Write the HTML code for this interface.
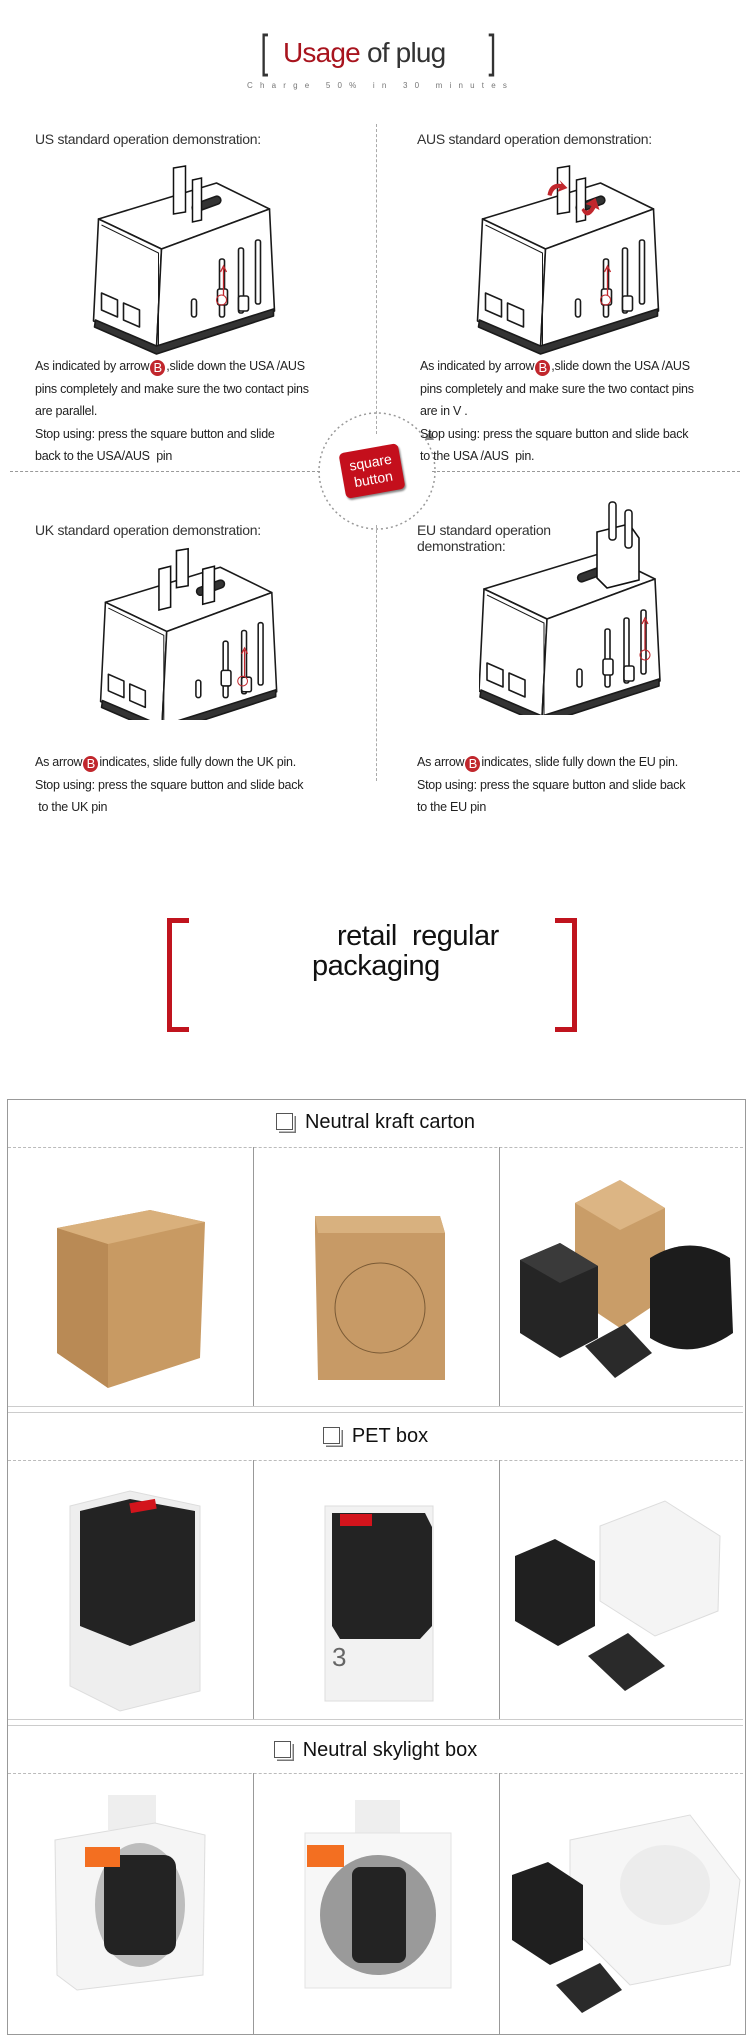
<!DOCTYPE html>
<html><head><meta charset="utf-8"><style>
*{margin:0;padding:0;box-sizing:border-box}
body{width:750px;height:2040px;background:#fff;position:relative;overflow:hidden;font-family:"Liberation Sans",Arial,sans-serif;color:#222}
.a{position:absolute}
.h{font-size:14px;letter-spacing:-0.3px;color:#333;white-space:nowrap}
.p{font-size:12.5px;letter-spacing:-0.25px;color:#222;line-height:22.5px;white-space:nowrap}
.b{display:inline-block;width:15px;height:16px;border-radius:50%;background:#c1272d;color:#fff;text-align:center;font-size:13px;line-height:16px;vertical-align:-2px;margin:0 1px}
.rb{position:absolute;border:5px solid #c0141e;width:22px;height:114px}
.cell{position:absolute;border-left:1px solid #999}
.hdr{position:absolute;left:7px;width:737px;text-align:center;font-size:20px;color:#111}
.cb{display:inline-block;width:17px;height:17px;border:1.5px solid #555;box-shadow:2px 2px 0 -0.5px #fff,3px 3px 0 0 #777;margin-right:12px;vertical-align:-2px}
.dash{position:absolute;left:8px;width:735px;border-top:1px dashed #bbb}
.sol{position:absolute;left:8px;width:735px;border-top:1px solid #ccc}
</style></head><body>

<!-- Title -->
<div class="a" style="left:258px;top:28px;font-size:46px;color:#333;font-weight:100;line-height:46px;transform:scaleX(0.6)">[</div>
<div class="a" style="left:486px;top:28px;font-size:46px;color:#333;line-height:46px;transform:scaleX(0.6)">]</div>
<div class="a" style="left:283px;top:36px;font-size:28px;line-height:34px;letter-spacing:-0.8px;white-space:nowrap"><span style="color:#a8141e">Usage</span> <span style="color:#333">of plug</span></div>
<div class="a" style="left:247px;top:81px;font-size:8px;letter-spacing:7.2px;color:#777;white-space:nowrap">Charge 50% in 30 minutes</div>

<!-- dividers -->
<div class="a" style="left:376px;top:124px;height:310px;border-left:1px dashed #aaa"></div>
<div class="a" style="left:376px;top:525px;height:256px;border-left:1px dashed #aaa"></div>
<div class="a" style="left:10px;top:471px;width:310px;border-top:1px dashed #999"></div>
<div class="a" style="left:432px;top:471px;width:308px;border-top:1px dashed #999"></div>
<svg class="a" style="left:310px;top:405px" width="135" height="135" viewBox="0 0 135 135">
<circle cx="67" cy="66" r="58" fill="none" stroke="#999" stroke-width="1.5" stroke-dasharray="2 3"/>
<path d="M115 35 l5 -10 l4 10z" fill="#888"/>
</svg>
<div class="a" style="left:342px;top:448px;width:60px;height:46px;background:#c40f1c;border-radius:5px;transform:rotate(-10deg);color:#fff;font-size:14px;line-height:17px;text-align:center;padding-top:6px;box-shadow:1px 2px 2px #888">square<br>button</div>

<svg width="0" height="0" style="position:absolute">
<defs>
<g id="body" fill="#fff" stroke="#1a1a1a" stroke-width="1.6" stroke-linejoin="round">
<path d="M5 49 L123 13 L176 39 L68 79Z"/>
<path d="M5 49 L0 151 L63 178 L68 79Z"/>
<path d="M68 79 L176 39 L181 141 L63 178Z"/>
<path d="M2 150 L63 176 L180 139 L180 146 L63 184 L1 157Z" fill="#333"/>
<path d="M8 123 L24 130 L24 147 L8 140Z M30 133 L46 140 L46 157 L30 150Z" fill="#fff"/>
<rect x="98" y="129" width="5" height="18" rx="2.5"/>
<rect x="126" y="89" width="5" height="58" rx="2"/>
<rect x="145" y="78" width="5" height="65" rx="2"/>
<rect x="162" y="70" width="5" height="64" rx="2"/>
<rect x="124" y="119" width="10" height="16" rx="2"/>
<rect x="145" y="126" width="10" height="15" rx="2"/>
<path d="M8 55 L65 83 L65 175" fill="none" stroke-width="1"/>
<rect x="98" y="30" width="30" height="8" rx="4" fill="#333" transform="rotate(-20 113 34)"/>
</g>
</defs></svg>

<!-- US -->
<div class="a h" style="left:35px;top:131px">US standard operation demonstration:</div>
<svg class="a" style="left:91px;top:160px" width="195" height="195" viewBox="0 -10 190 195">
<use href="#body"/>
<path d="M80 -2 L92 -4 L92 42 L80 44Z M99 10 L108 8 L108 50 L99 52Z" fill="#fff" stroke="#111" stroke-width="1.5"/>
<path d="M130 125 L130 98 M127 102 L130 96 L133 102" stroke="#c1272d" stroke-width="1.3" fill="none"/>
<circle cx="128" cy="130" r="5" fill="none" stroke="#c1272d"/>
</svg>
<div class="a p" style="left:35px;top:355px">As indicated by arrow<span class="b">B</span>,slide down the USA /AUS<br>pins completely and make sure the two contact pins<br>are parallel.<br>Stop using: press the square button and slide<br>back to the USA/AUS&nbsp; pin</div>

<!-- AUS -->
<div class="a h" style="left:417px;top:131px">AUS standard operation demonstration:</div>
<svg class="a" style="left:475px;top:160px" width="195" height="195" viewBox="0 -10 190 195">
<use href="#body"/>
<path d="M80 -2 L92 -4 L92 42 L80 44Z M99 10 L108 8 L108 50 L99 52Z" fill="#fff" stroke="#111" stroke-width="1.5"/>
<path d="M70 25 Q72 12 84 14 L82 10 L90 18 L80 22 L82 18 Q76 18 74 26Z M104 40 Q110 52 118 38 L122 40 L118 28 L108 34 L114 36 Q110 44 106 38Z" fill="#c1272d"/>
<path d="M130 125 L130 98 M127 102 L130 96 L133 102" stroke="#c1272d" stroke-width="1.3" fill="none"/>
<circle cx="128" cy="130" r="5" fill="none" stroke="#c1272d"/>
</svg>
<div class="a p" style="left:420px;top:355px">As indicated by arrow<span class="b">B</span>,slide down the USA /AUS<br>pins completely and make sure the two contact pins<br>are in V .<br>Stop using: press the square button and slide back<br>to the USA /AUS&nbsp; pin.</div>

<!-- UK -->
<div class="a h" style="left:35px;top:522px">UK standard operation demonstration:</div>
<svg class="a" style="left:98px;top:540px" width="190" height="180" viewBox="0 -15 190 185">
<use href="#body"/>
<path d="M60 15 L72 12 L72 54 L60 57Z M78 -4 L90 -6 L90 32 L78 34Z M105 15 L117 12 L117 48 L105 51Z" fill="#fff" stroke="#111" stroke-width="1.6"/>
<path d="M148 125 L148 98 M145 102 L148 96 L151 102" stroke="#c1272d" stroke-width="1.3" fill="none"/>
<circle cx="146" cy="130" r="5" fill="none" stroke="#c1272d"/>
</svg>
<div class="a p" style="left:35px;top:751px">As arrow<span class="b">B</span>indicates, slide fully down the UK pin.<br>Stop using: press the square button and slide back<br>&nbsp;to the UK pin</div>

<!-- EU -->
<div class="a h" style="left:417px;top:522px;line-height:16px">EU standard operation<br>demonstration:</div>
<svg class="a" style="left:479px;top:500px" width="185" height="215" viewBox="0 -40 185 215">
<use href="#body"/>
<path d="M118 -8 L150 -16 L160 -2 L160 40 L128 48 L118 38Z" fill="#fff" stroke="#111" stroke-width="1.6"/>
<rect x="130" y="-38" width="7" height="38" rx="3" fill="#fff" stroke="#111" stroke-width="1.5"/>
<rect x="146" y="-30" width="7" height="38" rx="3" fill="#fff" stroke="#111" stroke-width="1.5"/>
<path d="M166 110 L166 80 M163 84 L166 78 L169 84" stroke="#c1272d" stroke-width="1.3" fill="none"/>
<circle cx="166" cy="115" r="5" fill="none" stroke="#c1272d"/>
</svg>
<div class="a p" style="left:417px;top:751px">As arrow<span class="b">B</span>indicates, slide fully down the EU pin.<br>Stop using: press the square button and slide back<br>to the EU pin</div>

<!-- retail brackets -->
<div class="rb" style="left:167px;top:918px;border-right:none"></div>
<div class="rb" style="left:555px;top:918px;border-left:none"></div>
<div class="a" style="left:337px;top:921px;font-size:29px;line-height:30px;color:#111;white-space:nowrap;letter-spacing:-0.5px">retail&nbsp; regular</div>
<div class="a" style="left:312px;top:951px;font-size:29px;line-height:30px;color:#111;white-space:nowrap;letter-spacing:-0.5px">packaging</div>

<!-- table -->
<div class="a" style="left:7px;top:1099px;width:739px;height:936px;border:1px solid #999"></div>
<div class="hdr" style="top:1111px"><span class="cb"></span>Neutral kraft carton</div>
<div class="dash" style="top:1147px"></div>
<div class="cell" style="left:253px;top:1147px;height:259px"></div>
<div class="cell" style="left:499px;top:1147px;height:259px"></div>
<div class="sol" style="top:1406px"></div><div class="sol" style="top:1412px"></div>
<div class="hdr" style="top:1425px"><span class="cb"></span>PET box</div>
<div class="dash" style="top:1460px"></div>
<div class="cell" style="left:253px;top:1460px;height:259px"></div>
<div class="cell" style="left:499px;top:1460px;height:259px"></div>
<div class="sol" style="top:1719px"></div><div class="sol" style="top:1725px"></div>
<div class="hdr" style="top:1739px"><span class="cb"></span>Neutral skylight box</div>
<div class="dash" style="top:1773px"></div>
<div class="cell" style="left:253px;top:1773px;height:261px"></div>
<div class="cell" style="left:499px;top:1773px;height:261px"></div>

<!-- kraft images -->
<svg class="a" style="left:0;top:1148px" width="750" height="258">
<path d="M57 80 L150 62 L205 74 L200 210 L108 240 L57 205Z" fill="#c89a63"/>
<path d="M57 80 L108 96 L108 240 L57 205Z" fill="#b98a55"/>
<path d="M57 80 L150 62 L205 74 L108 96Z" fill="#d9b07c"/>
<path d="M315 68 L440 68 L445 85 L445 232 L318 232 L315 85Z" fill="#c79a66"/>
<path d="M315 68 L440 68 L445 85 L318 85Z" fill="#d8b17f"/>
<circle cx="380" cy="160" r="45" fill="none" stroke="#7a5a35" stroke-width="1"/>
<path d="M575 55 L620 32 L665 60 L665 150 L620 180 L575 150Z" fill="#c99d68"/>
<path d="M575 55 L620 32 L665 60 L620 82Z" fill="#dcb584"/>
<path d="M520 112 L560 95 L598 118 L598 190 L560 210 L520 185Z" fill="#252525"/>
<path d="M520 112 L560 95 L598 118 L560 135Z" fill="#3a3a3a"/>
<path d="M650 110 Q690 85 730 110 L733 185 Q690 215 650 190Z" fill="#1c1c1c"/>
<path d="M585 198 L625 176 L652 205 L615 230Z" fill="#2a2a2a"/>
</svg>

<!-- PET images -->
<svg class="a" style="left:0;top:1461px" width="750" height="258">
<path d="M70 45 L130 30 L200 45 L200 230 L120 250 L70 225Z" fill="#eee" stroke="#ddd"/>
<path d="M80 50 L130 38 L195 50 L195 160 L130 185 L80 165Z" fill="#232323"/>
<rect x="130" y="40" width="26" height="10" fill="#d3141c" transform="rotate(-10 143 45)"/>
<rect x="325" y="45" width="108" height="195" fill="#f2f2f2" stroke="#ddd"/>
<path d="M332 52 L425 52 L432 66 L432 165 L420 178 L340 178 L332 165 L332 66Z" fill="#232323"/>
<rect x="340" y="53" width="32" height="12" fill="#d3141c"/>
<text x="332" y="205" font-size="26" fill="#666" font-family="Liberation Sans">3</text>
<path d="M600 65 L665 40 L720 75 L718 150 L655 175 L600 140Z" fill="#f4f4f4" stroke="#ddd"/>
<path d="M515 95 L555 78 L595 100 L595 165 L558 185 L515 160Z" fill="#202020"/>
<path d="M588 195 L628 172 L665 205 L625 230Z" fill="#2a2a2a"/>
</svg>

<!-- skylight images -->
<svg class="a" style="left:0;top:1775px" width="750" height="260">
<rect x="108" y="20" width="48" height="35" fill="#eee"/>
<path d="M55 65 L155 48 L205 60 L203 200 L77 215 L57 200Z" fill="#f5f5f5" stroke="#ddd"/>
<ellipse cx="140" cy="130" rx="45" ry="62" fill="#bdbdbd"/>
<rect x="104" y="80" width="72" height="100" rx="12" fill="#232323"/>
<rect x="85" y="72" width="35" height="20" fill="#f36f21"/>
<rect x="355" y="25" width="45" height="35" fill="#eee"/>
<rect x="305" y="58" width="146" height="155" fill="#f7f7f7" stroke="#e3e3e3"/>
<ellipse cx="378" cy="140" rx="58" ry="60" fill="#9a9a9a"/>
<rect x="352" y="92" width="54" height="96" rx="8" fill="#232323"/>
<rect x="307" y="70" width="37" height="22" fill="#f36f21"/>
<path d="M570 65 L690 40 L740 105 L730 190 L630 210 L570 150Z" fill="#f6f6f6" stroke="#ddd"/>
<ellipse cx="665" cy="110" rx="45" ry="40" fill="#ececec"/>
<path d="M512 100 L548 87 L583 110 L583 175 L550 190 L512 165Z" fill="#1f1f1f"/>
<path d="M556 210 L600 188 L622 215 L582 238Z" fill="#2a2a2a"/>
</svg>
</body></html>
